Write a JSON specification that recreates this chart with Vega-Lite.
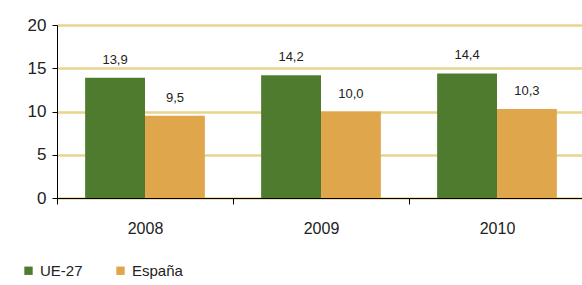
{
  "$schema": "https://vega.github.io/schema/vega-lite/v6.json",
  "autosize": "none",
  "width": 528,
  "height": 173,
  "padding": {"left": 57, "top": 25, "right": 0, "bottom": 87},
  "background": "white",
  "config": {
    "font": "Liberation Sans",
    "view": {"stroke": null}
  },
  "data": {
    "values": [
      {"year": "2008", "serie": "UE-27", "value": 13.9, "label": "13,9"},
      {"year": "2008", "serie": "España", "value": 9.5, "label": "9,5"},
      {"year": "2009", "serie": "UE-27", "value": 14.2, "label": "14,2"},
      {"year": "2009", "serie": "España", "value": 10.0, "label": "10,0"},
      {"year": "2010", "serie": "UE-27", "value": 14.4, "label": "14,4"},
      {"year": "2010", "serie": "España", "value": 10.3, "label": "10,3"}
    ]
  },
  "encoding": {
    "x": {
      "field": "year", "type": "nominal", "title": null,
      "scale": {"paddingInner": 0, "paddingOuter": 0},
      "axis": {
        "labelAngle": 0, "labelFontSize": 16, "labelColor": "#222",
        "labelPadding": 16, "tickBand": "extent", "tickColor": "#000",
        "domainColor": "#000", "tickSize": 6, "grid": false
      }
    },
    "xOffset": {
      "field": "serie", "type": "nominal", "sort": ["UE-27", "España"],
      "scale": {"paddingInner": 0, "paddingOuter": 0.47}
    },
    "y": {
      "field": "value", "type": "quantitative", "title": null,
      "scale": {"domain": [0, 20]},
      "axis": {
        "values": [0, 5, 10, 15, 20], "labelFontSize": 17, "labelColor": "#222",
        "labelPadding": 6, "tickColor": "#000", "domainColor": "#000",
        "tickSize": 5, "gridColor": "#e6d590", "gridWidth": 2.5, "gridOpacity": 1
      }
    }
  },
  "layer": [
    {
      "mark": {"type": "bar"},
      "encoding": {
        "color": {
          "field": "serie", "type": "nominal",
          "scale": {"domain": ["UE-27", "España"], "range": ["#4f7b2f", "#e0a64c"]},
          "legend": {
            "title": null, "orient": "none", "direction": "horizontal",
            "legendX": -36, "legendY": 238, "symbolType": "square",
            "symbolSize": 70, "labelFontSize": 15, "labelColor": "#222",
            "columnPadding": 30, "symbolOpacity": 1, "labelOffset": 4
          }
        }
      }
    },
    {
      "mark": {"type": "text", "dy": -18, "fontSize": 13, "color": "#222"},
      "encoding": {"text": {"field": "label"}}
    }
  ]
}
